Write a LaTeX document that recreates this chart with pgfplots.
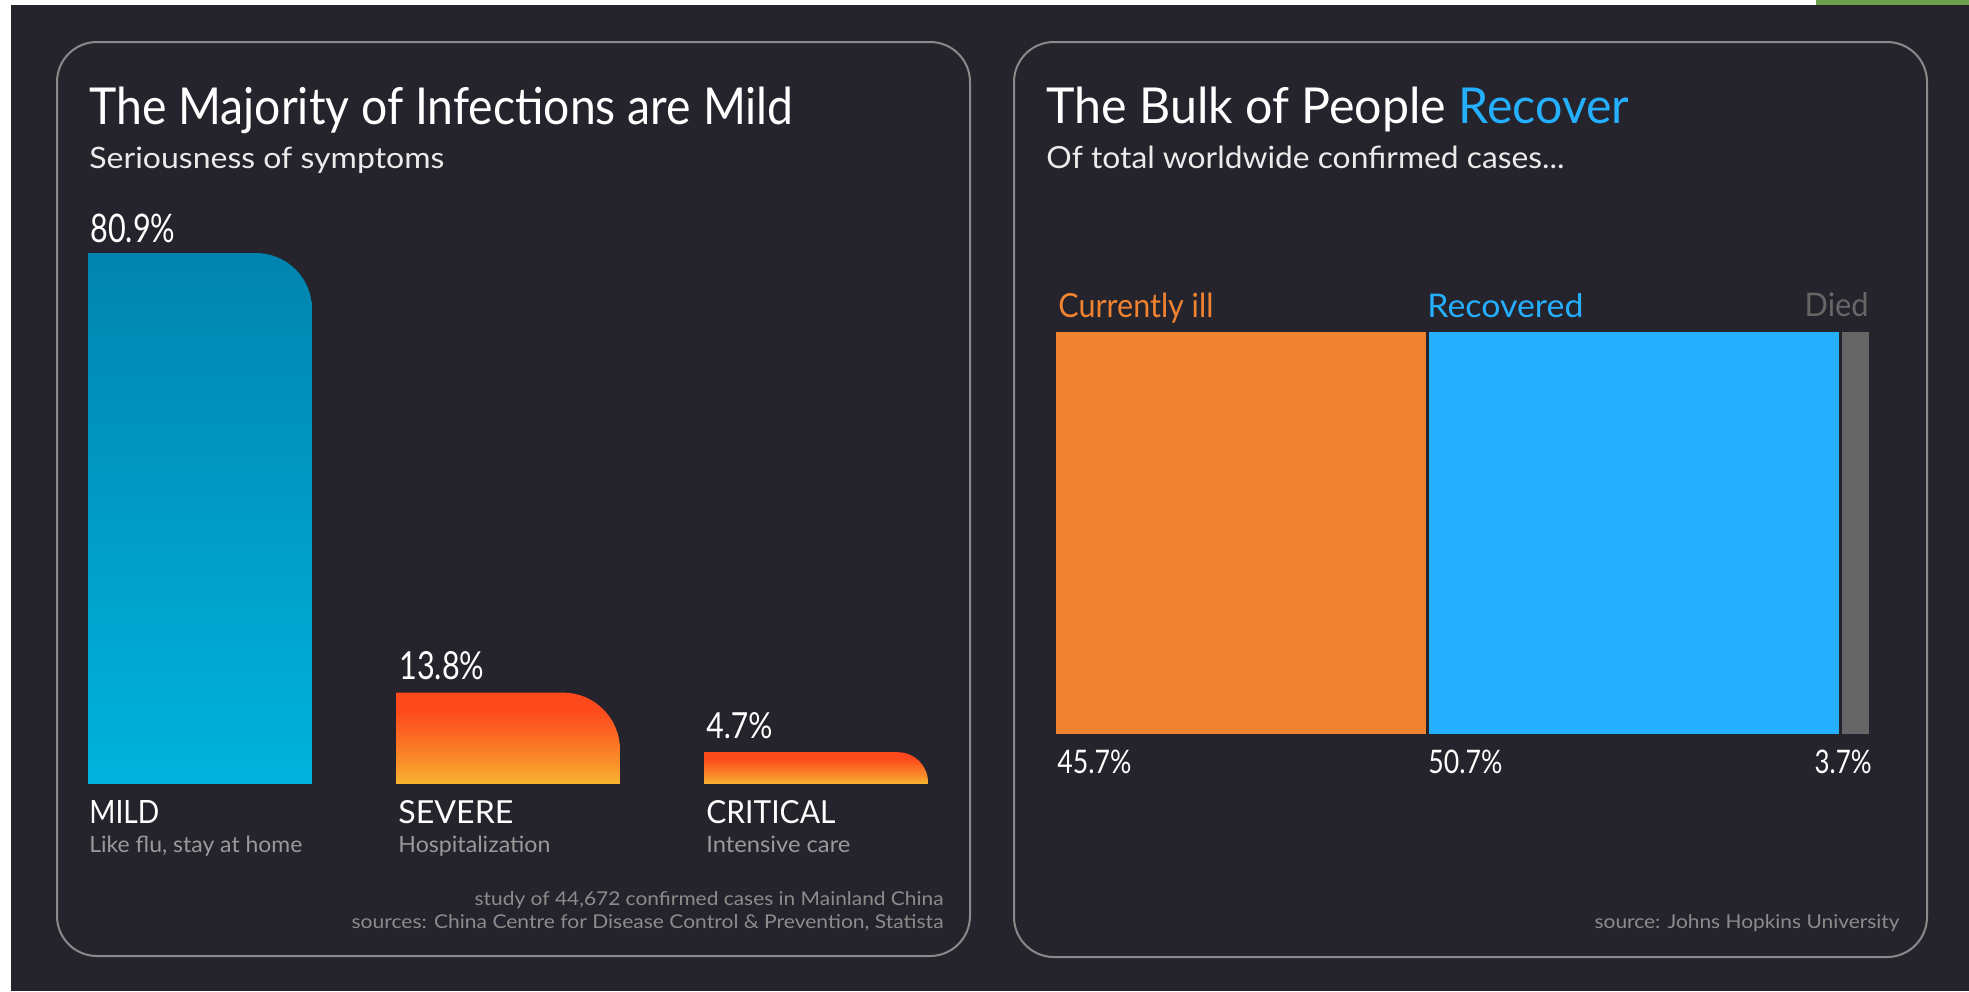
\documentclass[border=0pt]{standalone}
\usepackage{fontspec}
\setmainfont{Lato}
\usepackage{graphicx}
\usepackage{pgfplots}
\pgfplotsset{compat=1.18}
\definecolor{bg}{HTML}{25232C}
\definecolor{frame}{HTML}{8A8A8A}
\definecolor{mildtop}{HTML}{0084AF}
\definecolor{mildbot}{HTML}{00B3DC}
\definecolor{redtop}{HTML}{FC4A1C}
\definecolor{redmid}{HTML}{FB6A22}
\definecolor{orgmid}{HTML}{F98E2A}
\definecolor{yelbot}{HTML}{F8B22F}
\definecolor{ill}{HTML}{F0832F}
\definecolor{rec}{HTML}{24B0FE}
\definecolor{died}{HTML}{666666}
\definecolor{sublab}{HTML}{9A9A9A}
\definecolor{foot}{HTML}{8C8C8C}
\definecolor{topgreen}{HTML}{6FA04B}
\pgfdeclareverticalshading{mildshade}{100bp}{color(0bp)=(mildbot); color(50bp)=(mildbot); color(75bp)=(mildtop); color(100bp)=(mildtop)}
\pgfdeclareverticalshading{hotshade}{100bp}{color(0bp)=(yelbot); color(50bp)=(yelbot); color(56bp)=(orgmid); color(63bp)=(redmid); color(70bp)=(redtop); color(100bp)=(redtop)}
\newcommand{\fit}[3]{\resizebox{#1pt}{#2pt}{\fontsize{20}{24}\selectfont #3}}
\begin{document}
\begin{tikzpicture}
% background
\fill[bg] (0,0) rectangle (984.5pt,-495.5pt);
\fill[white] (0,0) rectangle (5.5pt,-495.5pt);
\fill[white] (0,0) rectangle (908pt,-2.5pt);
\fill[topgreen] (908pt,0) rectangle (984.5pt,-2.5pt);
% panels
\draw[frame, line width=1pt, rounded corners=20pt] (28.5pt,-21pt) rectangle (485pt,-478pt);
\draw[frame, line width=1pt, rounded corners=20pt] (507pt,-21pt) rectangle (963.5pt,-478.5pt);

% left chart: seriousness of symptoms
\begin{axis}[
  at={(38.4pt,-391.5pt)}, anchor=south west,
  scale only axis, width=431.2pt, height=271.87pt,
  xmin=-0.4, xmax=2.4, ymin=0, ymax=83,
  hide axis, clip=true,
]
\addplot[draw=none, shade, shading=mildshade, rounded corners=28pt, mark=none]
  coordinates {(-0.3636,80.9) (0.3636,80.9) (0.3636,-80.9) (-0.3636,-80.9) (-0.3636,80.9)};
\addplot[draw=none, shade, shading=hotshade, rounded corners=28.5pt, mark=none]
  coordinates {(0.6364,13.8) (1.3636,13.8) (1.3636,-13.8) (0.6364,-13.8) (0.6364,13.8)};
\addplot[draw=none, shade, shading=hotshade, rounded corners=15pt, mark=none]
  coordinates {(1.6364,4.7) (2.3636,4.7) (2.3636,-4.7) (1.6364,-4.7) (1.6364,4.7)};
\end{axis}

% right chart: outcome of confirmed cases
\begin{axis}[
  at={(527.25pt,-367.75pt)}, anchor=south west,
  scale only axis, width=408pt, height=202.5pt,
  xmin=0, xmax=100.1, ymin=-0.5, ymax=0.5,
  hide axis, clip=false,
  xbar stacked, bar width=202.5pt,
]
\addplot[fill=ill, draw=bg, line width=1.5pt] coordinates {(45.7,0)};
\addplot[fill=rec, draw=bg, line width=1.5pt] coordinates {(50.7,0)};
\addplot[fill=died, draw=bg, line width=1.5pt] coordinates {(3.7,0)};
\end{axis}

% texts, left panel
\begin{scope}[every node/.style={inner sep=0pt}]
\node[anchor=base west, text=white] at (44.5pt,-62pt) {\fit{352}{18.75}{The Majority of Infections are Mild}};
\node[anchor=base west, text=white!92!black] at (44.5pt,-84pt) {\fit{177.5}{10.75}{Seriousness of symptoms}};
\node[anchor=base west, text=white] at (45pt,-121pt) {\fit{42.5}{14.25}{80.9\%}};
\node[anchor=base west, text=white] at (199.5pt,-339.5pt) {\fit{42.5}{14}{13.8\%}};
\node[anchor=base west, text=white] at (353pt,-369pt) {\fit{33}{13}{4.7\%}};
\node[anchor=base west, text=white] at (44.5pt,-411.5pt) {\fit{35}{11.5}{MILD}};
\node[anchor=base west, text=white] at (199pt,-411.5pt) {\fit{57.5}{11.5}{SEVERE}};
\node[anchor=base west, text=white] at (353pt,-411.5pt) {\fit{64.5}{11.5}{CRITICAL}};
\node[anchor=base west, text=sublab] at (44.5pt,-426pt) {\fit{106.5}{8.25}{Like flu, stay at home}};
\node[anchor=base west, text=sublab] at (199pt,-426pt) {\fit{76}{8.25}{Hospitalization}};
\node[anchor=base west, text=sublab] at (353pt,-426pt) {\fit{72}{8.25}{Intensive care}};
\node[anchor=base east, text=foot] at (472pt,-452.5pt) {\fit{234.5}{7}{study of 44,672 confirmed cases in Mainland China}};
\node[anchor=base east, text=foot] at (472pt,-464pt) {\fit{296}{7}{sources: China Centre for Disease Control \& Prevention, Statista}};
% texts, right panel
\node[anchor=base west, text=white] at (523pt,-61.5pt) {\fit{291.5}{18.25}{The Bulk of People {\color{rec}Recover}}};
\node[anchor=base west, text=white!92!black] at (523pt,-84.25pt) {\fit{259}{11.25}{Of total worldwide confirmed cases...}};
\node[anchor=base west, text=ill] at (529pt,-158.5pt) {\fit{77.5}{12.25}{Currently ill}};
\node[anchor=base west, text=rec] at (713.5pt,-158.5pt) {\fit{78}{12}{Recovered}};
\node[anchor=base east, text=died] at (934.5pt,-158pt) {\fit{32}{12}{Died}};
\node[anchor=base west, text=white] at (528.5pt,-386.5pt) {\fit{37}{11.75}{45.7\%}};
\node[anchor=base west, text=white] at (714pt,-386.5pt) {\fit{37}{11.75}{50.7\%}};
\node[anchor=base east, text=white] at (936pt,-386.5pt) {\fit{28.5}{11.75}{3.7\%}};
\node[anchor=base east, text=foot] at (950pt,-464pt) {\fit{152.5}{7}{source: Johns Hopkins University}};
\end{scope}
\pgfresetboundingbox
\useasboundingbox (0,0) rectangle (984.5pt,-495.5pt);
\end{tikzpicture}
\end{document}
